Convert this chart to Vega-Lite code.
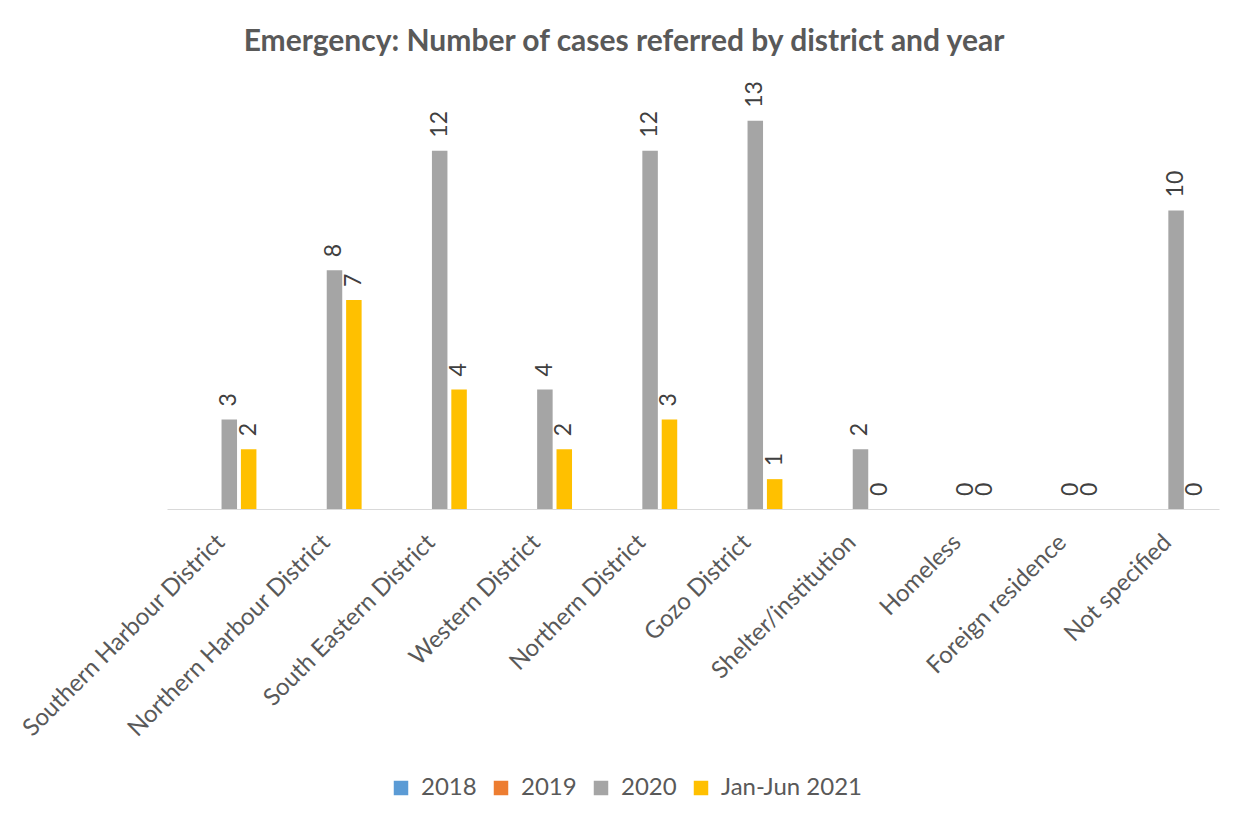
{
  "$schema": "https://vega.github.io/schema/vega-lite/v6.json",
  "width": 1052,
  "height": 418,
  "autosize": {"type": "none"},
  "padding": {"left": 167, "top": 91, "right": 30, "bottom": 320},
  "background": "white",
  "title": {
    "text": "Emergency: Number of cases referred by district and year",
    "anchor": "middle",
    "frame": "group",
    "dx": -69,
    "offset": 24,
    "font": "Lato",
    "fontSize": 30,
    "fontWeight": "bold",
    "color": "#595959"
  },
  "data": {
    "values": [
      {"District": "Southern Harbour District", "Series": "2018", "Cases": null},
      {"District": "Southern Harbour District", "Series": "2019", "Cases": null},
      {"District": "Southern Harbour District", "Series": "2020", "Cases": 3},
      {"District": "Southern Harbour District", "Series": "Jan-Jun 2021", "Cases": 2},
      {"District": "Northern Harbour District", "Series": "2018", "Cases": null},
      {"District": "Northern Harbour District", "Series": "2019", "Cases": null},
      {"District": "Northern Harbour District", "Series": "2020", "Cases": 8},
      {"District": "Northern Harbour District", "Series": "Jan-Jun 2021", "Cases": 7},
      {"District": "South Eastern District", "Series": "2018", "Cases": null},
      {"District": "South Eastern District", "Series": "2019", "Cases": null},
      {"District": "South Eastern District", "Series": "2020", "Cases": 12},
      {"District": "South Eastern District", "Series": "Jan-Jun 2021", "Cases": 4},
      {"District": "Western District", "Series": "2018", "Cases": null},
      {"District": "Western District", "Series": "2019", "Cases": null},
      {"District": "Western District", "Series": "2020", "Cases": 4},
      {"District": "Western District", "Series": "Jan-Jun 2021", "Cases": 2},
      {"District": "Northern District", "Series": "2018", "Cases": null},
      {"District": "Northern District", "Series": "2019", "Cases": null},
      {"District": "Northern District", "Series": "2020", "Cases": 12},
      {"District": "Northern District", "Series": "Jan-Jun 2021", "Cases": 3},
      {"District": "Gozo District", "Series": "2018", "Cases": null},
      {"District": "Gozo District", "Series": "2019", "Cases": null},
      {"District": "Gozo District", "Series": "2020", "Cases": 13},
      {"District": "Gozo District", "Series": "Jan-Jun 2021", "Cases": 1},
      {"District": "Shelter/institution", "Series": "2018", "Cases": null},
      {"District": "Shelter/institution", "Series": "2019", "Cases": null},
      {"District": "Shelter/institution", "Series": "2020", "Cases": 2},
      {"District": "Shelter/institution", "Series": "Jan-Jun 2021", "Cases": 0},
      {"District": "Homeless", "Series": "2018", "Cases": null},
      {"District": "Homeless", "Series": "2019", "Cases": null},
      {"District": "Homeless", "Series": "2020", "Cases": 0},
      {"District": "Homeless", "Series": "Jan-Jun 2021", "Cases": 0},
      {"District": "Foreign residence", "Series": "2018", "Cases": null},
      {"District": "Foreign residence", "Series": "2019", "Cases": null},
      {"District": "Foreign residence", "Series": "2020", "Cases": 0},
      {"District": "Foreign residence", "Series": "Jan-Jun 2021", "Cases": 0},
      {"District": "Not specified", "Series": "2018", "Cases": null},
      {"District": "Not specified", "Series": "2019", "Cases": null},
      {"District": "Not specified", "Series": "2020", "Cases": 10},
      {"District": "Not specified", "Series": "Jan-Jun 2021", "Cases": 0}
    ]
  },
  "encoding": {
    "x": {
      "field": "District",
      "type": "nominal",
      "sort": null,
      "scale": {"paddingInner": 0.3, "paddingOuter": 0.15},
      "axis": {
        "title": null,
        "labelAngle": -45,
        "labelFont": "Lato",
        "labelFontSize": 24,
        "labelColor": "#595959",
        "labelPadding": 21,
        "labelOffset": -7,
        "labelLimit": 0,
        "labelOverlap": false,
        "domainColor": "#d9d9d9",
        "domainWidth": 1,
        "ticks": false,
        "grid": false
      }
    },
    "xOffset": {
      "field": "Series",
      "type": "nominal",
      "scale": {"domain": ["2018", "2019", "2020", "Jan-Jun 2021"], "paddingInner": 0.2}
    },
    "y": {
      "field": "Cases",
      "type": "quantitative",
      "scale": {"domain": [0, 14]},
      "axis": null
    }
  },
  "layer": [
    {
      "mark": {"type": "bar"},
      "encoding": {
        "color": {
          "field": "Series",
          "type": "nominal",
          "scale": {
            "domain": ["2018", "2019", "2020", "Jan-Jun 2021"],
            "range": ["#5B9BD5", "#ED7D31", "#A5A5A5", "#FFC000"]
          },
          "legend": {
            "title": null,
            "orient": "none",
            "direction": "horizontal",
            "legendX": 222,
            "legendY": 685,
            "symbolType": "square",
            "symbolSize": 210,
            "symbolStrokeWidth": 0,
            "labelFont": "Lato",
            "labelFontSize": 24,
            "labelColor": "#595959",
            "columnPadding": 12,
            "labelOffset": 8
          }
        }
      }
    },
    {
      "transform": [{"filter": "datum.Cases != null"}],
      "mark": {
        "type": "text",
        "angle": 270,
        "align": "left",
        "baseline": "middle",
        "dx": 13,
        "font": "Lato",
        "fontSize": 23,
        "color": "#404040"
      },
      "encoding": {
        "text": {"field": "Cases", "type": "quantitative"}
      }
    }
  ],
  "config": {
    "view": {"stroke": null}
  }
}
